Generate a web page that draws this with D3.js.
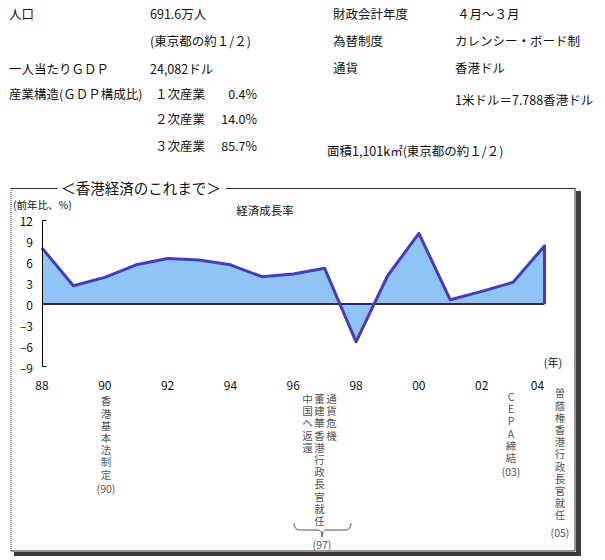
<!DOCTYPE html>
<html><head><meta charset="utf-8">
<script src="https://cdn.jsdelivr.net/npm/d3@7"></script>
<style>
html,body{margin:0;padding:0;background:#fff;}
svg{display:block;}
text{font-family:"Noto Sans CJK JP","Noto Sans",sans-serif;fill:#111;}
text.vert{writing-mode:vertical-rl;text-orientation:upright;}
</style></head>
<body>
<script>
// ---- data ----
const years  = [1988,1989,1990,1991,1992,1993,1994,1995,1996,1997,1998,1999,2000,2001,2002,2003,2004];
const growth = [8.0, 2.6, 3.8, 5.6, 6.5, 6.3, 5.6, 3.9, 4.3, 5.1, -5.4, 4.0, 10.1, 0.6, 1.8, 3.1, 8.3];
const yTicks = [12, 9, 6, 3, 0, -3, -6, -9];
const xTickYears  = [1988,1990,1992,1994,1996,1998,2000,2002,2004];
const xTickLabels = ["88","90","92","94","96","98","00","02","04"];

const infoLabelsLeft  = ["人口", "", "一人当たりＧＤＰ", "産業構造(ＧＤＰ構成比)", "", ""];
const infoValuesLeft  = ["691.6万人", "(東京都の約１/２)", "24,082ドル", "１次産業", "２次産業", "３次産業"];
const infoShares      = ["", "", "", "0.4%", "14.0%", "85.7%"];
const infoLabelsRight = ["財政会計年度", "為替制度", "通貨", ""];
const infoValuesRight = ["４月～３月", "カレンシー・ボード制", "香港ドル", "1米ドル＝7.788香港ドル"];
const areaText = "面積1,101k㎡(東京都の約１/２)";

const chartTitle = "＜香港経済のこれまで＞";
const seriesTitle = "経済成長率";
const yUnit = "(前年比、%)";
const xUnit = "(年)";

const annotations = [
  {cols:["香港基本法制定"], note:"(90)"},
  {cols:["中国へ返還","董建華香港行政長官就任","通貨危機"], note:"(97)"},
  {cols:["CEPA締結"], note:"(03)"},
  {cols:["曽蔭権香港行政長官就任"], note:"(05)"}
];

// ---- drawing ----
const W = 605, H = 560;
const svg = d3.select("body").append("svg").attr("width", W).attr("height", H);

// info block
const rowYLeft = [13, 40, 68, 93, 118, 145];
const rowYRight = [13, 40, 67, 99];
const fs = 12.5;
infoLabelsLeft.forEach((t,i)=>{ if(t) svg.append("text").attr("x",9).attr("y",rowYLeft[i]).attr("dominant-baseline","central").attr("font-size",fs).text(t);});
infoValuesLeft.forEach((t,i)=>{ svg.append("text").attr("x", i>=3?155:150).attr("y",rowYLeft[i]).attr("dominant-baseline","central").attr("font-size",fs).text(t);});
infoShares.forEach((t,i)=>{ if(t) svg.append("text").attr("x",257).attr("y",rowYLeft[i]).attr("text-anchor","end").attr("dominant-baseline","central").attr("font-size",fs).text(t);});
infoLabelsRight.forEach((t,i)=>{ if(t) svg.append("text").attr("x",333).attr("y",rowYRight[i]).attr("dominant-baseline","central").attr("font-size",fs).text(t);});
infoValuesRight.forEach((t,i)=>{ svg.append("text").attr("x",i===0?457:455).attr("y",rowYRight[i]).attr("dominant-baseline","central").attr("font-size",fs).text(t);});
svg.append("text").attr("x",327).attr("y",150).attr("dominant-baseline","central").attr("font-size",fs).text(areaText);

// frame
const fx0 = 11, fy0 = 188, fx1 = 575, fy1 = 551;
svg.append("rect").attr("x",fx1+1).attr("y",fy0+3).attr("width",5).attr("height",fy1-fy0+2).attr("fill","#3a3a3a");
svg.append("rect").attr("x",fx0+3).attr("y",fy1+1).attr("width",fx1-fx0+3).attr("height",4).attr("fill","#3a3a3a");
svg.append("line").attr("x1",fx0).attr("x2",fx0).attr("y1",fy0).attr("y2",fy1).attr("stroke","#333").attr("stroke-dasharray","1,1");
svg.append("line").attr("x1",fx0).attr("x2",fx1).attr("y1",fy1).attr("y2",fy1).attr("stroke","#333");
svg.append("line").attr("x1",fx1).attr("x2",fx1).attr("y1",fy0).attr("y2",fy1).attr("stroke","#333");
svg.append("line").attr("x1",fx0).attr("x2",57).attr("y1",fy0+0.5).attr("y2",fy0+0.5).attr("stroke","#333");
svg.append("line").attr("x1",226).attr("x2",fx1).attr("y1",fy0+0.5).attr("y2",fy0+0.5).attr("stroke","#333");
svg.append("text").attr("x",141).attr("y",187).attr("text-anchor","middle").attr("dominant-baseline","central").attr("font-size",14.5).text(chartTitle);

// scales
const x = d3.scaleLinear().domain([1988,2004]).range([42,544.5]);
const y = d3.scaleLinear().domain([-9,12]).range([367,220]);

const data = years.map((yr,i)=>({year:yr, value:growth[i]}));

svg.append("text").attr("x",13).attr("y",204).attr("dominant-baseline","central").attr("font-size",10.5).text(yUnit);
svg.append("text").attr("x",265).attr("y",210).attr("text-anchor","middle").attr("dominant-baseline","central").attr("font-size",11.5).text(seriesTitle);

// area
const area = d3.area().x(d=>x(d.year)).y0(y(0)).y1(d=>y(d.value));
svg.append("path").datum(data).attr("d",area).attr("fill","#90c4f4");
// zero line
svg.append("line").attr("x1",x(1988)).attr("x2",x(2004)).attr("y1",y(0)).attr("y2",y(0)).attr("stroke","#2e2a5e").attr("stroke-width",2);
// outline
const outline = data.concat([{year:2004, value:0}]);
const line = d3.line().x(d=>x(d.year)).y(d=>y(d.value));
svg.append("path").datum(outline).attr("d",line).attr("fill","none").attr("stroke","#4a3cb2").attr("stroke-width",3).attr("stroke-linejoin","round");

// y axis
const yAxisG = svg.append("g");
yAxisG.append("path").attr("d",`M${x(1988)+4.5},${y(12)+0.5}H${x(1988)+0.5}V${y(-9)-0.5}H${x(1988)+4.5}`).attr("fill","none").attr("stroke","#000");
yAxisG.selectAll("text.yt").data(yTicks).join("text").attr("class","yt")
  .attr("x",33).attr("y",d=>y(d)).attr("text-anchor","end").attr("dominant-baseline","central")
  .attr("font-family","Liberation Sans, Arial, sans-serif").attr("font-size",12)
  .text(d=> d<0 ? "–"+Math.abs(d) : d);

// x labels
svg.selectAll("text.xt").data(xTickYears).join("text").attr("class","xt")
  .attr("x",(d,i)=> x(d) + (i===xTickYears.length-1 ? -7 : 0)).attr("y",384)
  .attr("text-anchor","middle").attr("dominant-baseline","central")
  .attr("font-family","Liberation Sans, Arial, sans-serif").attr("font-size",12)
  .text((d,i)=>xTickLabels[i]);
svg.append("text").attr("x",553).attr("y",362).attr("text-anchor","middle").attr("dominant-baseline","central").attr("font-size",11).text(xUnit);

// annotations (vertical text)
const annColor = "#555";
const afs = 10.5, step = 12.2;
function vcol(text, cx, yc0){
  svg.append("text").attr("class","vert")
    .attr("x",cx).attr("y",yc0 - afs/2)
    .attr("font-size",afs).style("letter-spacing",(step-afs)+"px")
    .style("fill",annColor).text(text);
}
function note(t, cx, cy){
  svg.append("text").attr("x",cx).attr("y",cy).attr("text-anchor","middle").attr("dominant-baseline","central")
    .attr("font-size",10.5).style("fill",annColor).text(t);
}
// 90
vcol(annotations[0].cols[0], 106, 401.5);
note(annotations[0].note, 106, 488);
// 97
vcol(annotations[1].cols[0], 307.5, 399);
vcol(annotations[1].cols[1], 319.5, 399);
vcol(annotations[1].cols[2], 331.5, 399);
svg.append("path").attr("d","M294,523 Q294,530 300,530 L318,530 Q322,530 322,537 Q322,530 326,530 L345,530 Q351,530 351,523")
  .attr("fill","none").attr("stroke","#555").attr("stroke-width",1);
note(annotations[1].note, 322, 544);
// 03
vcol(annotations[2].cols[0], 511, 397);
note(annotations[2].note, 511, 471);
// 05
vcol(annotations[3].cols[0], 560, 393.5);
note(annotations[3].note, 560, 532);
</script>
</body></html>
